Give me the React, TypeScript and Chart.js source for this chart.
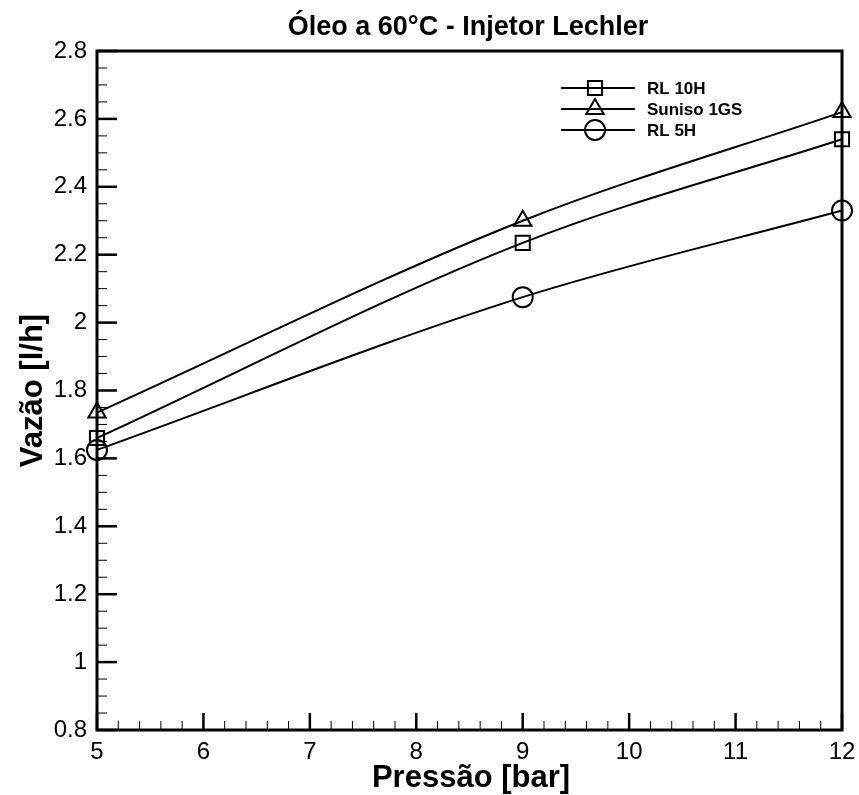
import { useEffect, useRef } from "react"
import { Chart, registerables, type Plugin } from "chart.js"

Chart.register(...registerables)

// Data
const pressao = [5, 9, 12]
const rl10h = [1.66, 2.235, 2.54]
const suniso1gs = [1.735, 2.3, 2.62]
const rl5h = [1.625, 2.075, 2.33]

const seriesNames = ["RL 10H", "Suniso 1GS", "RL 5H"]
const seriesMarkers = ["rect", "triangle", "circle"] as const

const xTicks = [5, 6, 7, 8, 9, 10, 11, 12]
const yTicks = [0.8, 1, 1.2, 1.4, 1.6, 1.8, 2, 2.2, 2.4, 2.6, 2.8]

const FONT = "'Liberation Sans', Arial, Helvetica, sans-serif"
const W = 859
const H = 795

function drawMarker(ctx: CanvasRenderingContext2D, style: string, x: number, y: number, r: number) {
  ctx.beginPath()
  if (style === "rect") {
    const s = Math.SQRT1_2 * r
    ctx.rect(x - s, y - s, 2 * s, 2 * s)
  } else if (style === "triangle") {
    const w = r * Math.sin(Math.PI / 3)
    ctx.moveTo(x, y - r)
    ctx.lineTo(x + w, y + r / 2)
    ctx.lineTo(x - w, y + r / 2)
    ctx.closePath()
  } else {
    ctx.arc(x, y, r, 0, Math.PI * 2)
  }
  ctx.stroke()
}

const framePlugin: Plugin<"line"> = {
  id: "tecplotFrame",
  beforeDatasetsDraw(chart) {
    const { ctx, chartArea: a, scales } = chart
    const xs = scales.x
    const ys = scales.y
    ctx.save()
    ctx.strokeStyle = "#000"
    ctx.lineCap = "butt"

    // x ticks (inward, bottom only)
    const xStep = 0.2
    const nx = Math.round((xs.max - xs.min) / xStep)
    for (let i = 0; i <= nx; i++) {
      const px = xs.getPixelForValue(xs.min + i * xStep)
      const major = i % 5 === 0
      ctx.lineWidth = major ? 2.5 : 1
      ctx.beginPath()
      ctx.moveTo(px, a.bottom)
      ctx.lineTo(px, a.bottom - (major ? 17 : 9))
      ctx.stroke()
    }

    // y ticks (inward, left only)
    const yStep = 0.05
    const ny = Math.round((ys.max - ys.min) / yStep)
    for (let i = 0; i <= ny; i++) {
      const py = ys.getPixelForValue(ys.min + i * yStep)
      const major = i % 4 === 0
      ctx.lineWidth = major ? 2.5 : 1
      ctx.beginPath()
      ctx.moveTo(a.left, py)
      ctx.lineTo(a.left + (major ? 20 : 10), py)
      ctx.stroke()
    }

    // frame
    ctx.lineWidth = 3
    ctx.strokeRect(a.left, a.top, a.right - a.left, a.bottom - a.top)
    ctx.restore()
  },
  afterDraw(chart) {
    const { ctx, chartArea: a } = chart
    ctx.save()
    ctx.fillStyle = "#000"
    ctx.strokeStyle = "#000"

    // title
    ctx.font = `bold 27px ${FONT}`
    ctx.textAlign = "center"
    ctx.textBaseline = "alphabetic"
    ctx.fillText("Óleo a 60°C - Injetor Lechler", 468, 35)

    // axis titles
    ctx.font = `bold 31px ${FONT}`
    ctx.fillText("Pressão [bar]", 471, 787)
    ctx.save()
    ctx.translate(42, (a.top + a.bottom) / 2)
    ctx.rotate(-Math.PI / 2)
    ctx.fillText("Vazão [l/h]", 0, 0)
    ctx.restore()

    // legend
    ctx.font = `bold 17px ${FONT}`
    ctx.textAlign = "left"
    ctx.textBaseline = "middle"
    seriesNames.forEach((name, i) => {
      const ly = 88 + i * 21
      ctx.lineWidth = 2
      ctx.beginPath()
      ctx.moveTo(561, ly)
      ctx.lineTo(635, ly)
      ctx.stroke()
      drawMarker(ctx, seriesMarkers[i], 595, ly, 10)
      ctx.fillText(name, 647, ly + 1)
    })
    ctx.restore()
  },
}

export default function App() {
  const canvasRef = useRef<HTMLCanvasElement>(null)

  useEffect(() => {
    document.body.style.margin = "0"
    if (!canvasRef.current) return
    const ctx = canvasRef.current.getContext("2d")
    if (!ctx) return

    const series = [rl10h, suniso1gs, rl5h]

    const chart = new Chart(ctx, {
      type: "line",
      data: {
        datasets: series.map((values, i) => ({
          label: seriesNames[i],
          data: values.map((v, j) => ({ x: pressao[j], y: v })),
          borderColor: "#000",
          borderWidth: 2,
          cubicInterpolationMode: "monotone" as const,
          pointStyle: seriesMarkers[i],
          pointRadius: 10,
          pointBorderWidth: 2,
          pointBorderColor: "#000",
          pointBackgroundColor: "rgba(0,0,0,0)",
          clip: false as const,
        })),
      },
      options: {
        responsive: false,
        animation: false,
        events: [],
        layout: { padding: { top: 51, right: 17, left: 0, bottom: 0 } },
        plugins: {
          legend: { display: false },
          title: { display: false },
          tooltip: { enabled: false },
        },
        scales: {
          x: {
            type: "linear",
            min: 5,
            max: 12,
            afterBuildTicks: (s) => {
              s.ticks = xTicks.map((v) => ({ value: v }))
            },
            afterFit: (s) => {
              s.height = 65
              s.paddingLeft = 0
              s.paddingRight = 0
            },
            grid: { display: false, drawTicks: false },
            border: { display: false },
            ticks: {
              color: "#000",
              font: { size: 24, family: FONT },
              padding: 8,
              autoSkip: false,
              maxRotation: 0,
              callback: (v) => String(v),
            },
          },
          y: {
            type: "linear",
            min: 0.8,
            max: 2.8,
            afterBuildTicks: (s) => {
              s.ticks = yTicks.map((v) => ({ value: v }))
            },
            afterFit: (s) => {
              s.width = 97
              s.paddingTop = 0
              s.paddingBottom = 0
            },
            grid: { display: false, drawTicks: false },
            border: { display: false },
            ticks: {
              color: "#000",
              font: { size: 24, family: FONT },
              padding: 10,
              autoSkip: false,
              callback: (v) => String(Math.round(Number(v) * 10) / 10),
            },
          },
        },
      },
      plugins: [framePlugin],
    })

    return () => {
      chart.destroy()
    }
  }, [])

  return (
    <div style={{ width: W, height: H }}>
      <canvas ref={canvasRef} width={W} height={H} style={{ display: "block" }} />
    </div>
  )
}
